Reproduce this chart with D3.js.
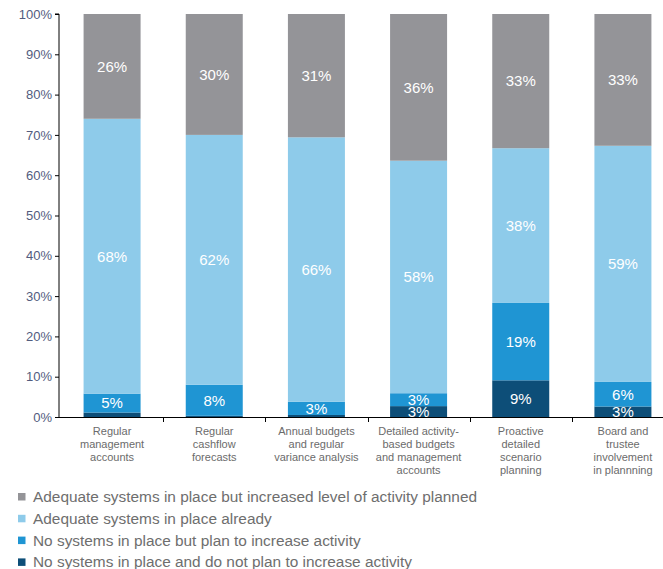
<!DOCTYPE html>
<html>
<head>
<meta charset="utf-8">
<script src="https://cdn.jsdelivr.net/npm/d3@7"></script>
<style>
  html, body { margin: 0; padding: 0; background: #fff; }
  svg { display: block; font-family: "Liberation Sans", Arial, Helvetica, sans-serif; }
</style>
</head>
<body>
<svg id="chart" width="663" height="569"></svg>
<script>
// Categories (multi-line labels)
const categories = [
  ["Regular", "management", "accounts"],
  ["Regular", "cashflow", "forecasts"],
  ["Annual budgets", "and regular", "variance analysis"],
  ["Detailed activity-", "based budgets", "and management", "accounts"],
  ["Proactive", "detailed", "scenario", "planning"],
  ["Board and", "trustee", "involvement", "in plannning"]
];

// Series, stacked bottom to top (percent of respondents)
const noSystemsNoPlan   = [1.1, 0.3, 0.5, 2.7, 9.1, 2.6];
const noSystemsPlan     = [4.7, 7.7, 3.3, 3.2, 19.2, 6.1];
const adequateAlready   = [68.2, 62.0, 65.6, 57.7, 38.4, 58.6];
const adequateIncreased = [26.0, 30.0, 30.6, 36.4, 33.3, 32.7];

const seriesNames = [
  "No systems in place and do not plan to increase activity",
  "No systems in place but plan to increase activity",
  "Adequate systems in place already",
  "Adequate systems in place but increased level of activity planned"
];
const seriesColors = ["#0d4e78", "#1f95d3", "#8ecbea", "#949498"];

const yTicks = [0, 10, 20, 30, 40, 50, 60, 70, 80, 90, 100];

const seriesValues = [noSystemsNoPlan, noSystemsPlan, adequateAlready, adequateIncreased];
const keys = seriesNames;
const rows = categories.map((c, i) => {
  const r = { idx: i };
  keys.forEach((k, s) => r[k] = seriesValues[s][i]);
  return r;
});

const svg = d3.select("#chart");
const plotTop = 14, plotBottom = 417, plotLeft = 59;

const x = d3.scaleBand().domain(d3.range(categories.length)).range([61, 674]).padding(0);
const y = d3.scaleLinear().domain([0, 100]).range([plotBottom, plotTop]);
const color = d3.scaleOrdinal().domain(keys).range(seriesColors);

const stacked = d3.stack().keys(keys)(rows);
const barW = 57;

const layer = svg.append("g").selectAll("g")
  .data(stacked).join("g")
  .attr("fill", d => color(d.key));

layer.selectAll("rect")
  .data(d => d.map(p => ({ p, key: d.key })))
  .join("rect")
  .attr("x", d => x(d.p.data.idx) + x.bandwidth() / 2 - barW / 2)
  .attr("width", barW)
  .attr("y", d => y(d.p[1]))
  .attr("height", d => y(d.p[0]) - y(d.p[1]));

// Value labels
const fmt = v => Math.round(v) + "%";
svg.append("g").selectAll("g")
  .data(stacked).join("g")
  .selectAll("text")
  .data(d => d.filter(p => p[1] - p[0] >= 2))
  .join("text")
  .attr("x", p => x(p.data.idx) + x.bandwidth() / 2)
  .attr("y", p => (y(p[0]) + y(p[1])) / 2)
  .attr("dy", "0.36em")
  .attr("text-anchor", "middle")
  .attr("fill", "#fff")
  .attr("font-size", 15)
  .text(p => fmt(p[1] - p[0]));

// Y axis
const yAxis = svg.append("g")
  .attr("transform", `translate(${plotLeft},0)`)
  .call(d3.axisLeft(y).tickValues(yTicks).tickFormat(d => d + "%").tickSize(4).tickPadding(3));
yAxis.select(".domain").attr("stroke", "#000").attr("d", `M-4,${plotTop}H0V${plotBottom}`);
yAxis.selectAll(".tick line").attr("stroke", "#000");
yAxis.selectAll(".tick text")
  .attr("fill", "#525c7e")
  .attr("font-size", 13)
  .attr("font-family", "'Liberation Sans', Arial, sans-serif");

// X axis baseline with ticks between categories
const xg = svg.append("g");
xg.append("line")
  .attr("x1", plotLeft).attr("x2", 663)
  .attr("y1", plotBottom + 0.5).attr("y2", plotBottom + 0.5)
  .attr("stroke", "#000");
xg.selectAll("line.sep")
  .data(d3.range(1, categories.length))
  .join("line")
  .attr("class", "sep")
  .attr("x1", i => Math.round(x(i)) + 0.5).attr("x2", i => Math.round(x(i)) + 0.5)
  .attr("y1", plotBottom).attr("y2", plotBottom + 5)
  .attr("stroke", "#000");

// Category labels
const catText = xg.selectAll("text.cat")
  .data(categories)
  .join("text")
  .attr("class", "cat")
  .attr("text-anchor", "middle")
  .attr("fill", "#6b6b6b")
  .attr("font-size", 11)
  .attr("transform", (d, i) => `translate(${x(i) + x.bandwidth() / 2},${434.5})`);
catText.selectAll("tspan")
  .data(d => d)
  .join("tspan")
  .attr("x", 0)
  .attr("y", (d, j) => j * 13.1)
  .text(d => d);

// Legend (top series first)
const legendOrder = [3, 2, 1, 0];
const lg = svg.append("g").selectAll("g")
  .data(legendOrder)
  .join("g")
  .attr("transform", (s, j) => `translate(18,${496.5 + j * 21.8})`);
lg.append("rect")
  .attr("x", 0).attr("y", -3.5)
  .attr("width", 7.5).attr("height", 7.5)
  .attr("fill", s => seriesColors[s]);
lg.append("text")
  .attr("x", 15)
  .attr("dy", "0.36em")
  .attr("fill", "#6e6e6e")
  .attr("font-size", 15.4)
  .text(s => seriesNames[s]);
</script>
</body>
</html>
